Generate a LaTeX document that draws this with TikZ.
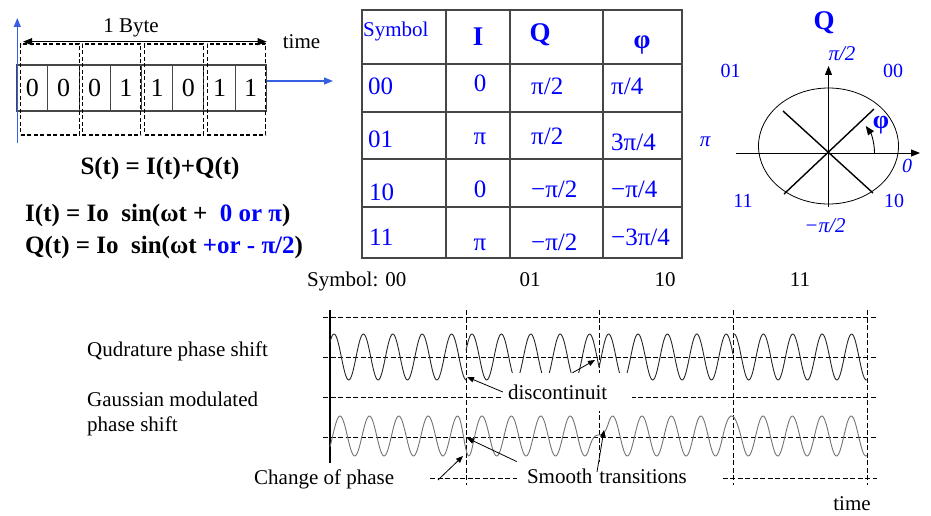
\documentclass[tikz,border=0pt]{standalone}
\usepackage{fontspec}
\setmainfont{Liberation Serif}
\usetikzlibrary{arrows.meta,positioning,calc,shapes.geometric}
\definecolor{symblue}{RGB}{0,0,255}
\definecolor{axblue}{RGB}{55,95,225}
\definecolor{linegray}{RGB}{70,70,70}
\definecolor{wavegray}{RGB}{115,115,115}

\begin{document}
\begin{tikzpicture}[x=1pt,y=-1pt,>={Triangle[length=9pt,width=7pt]},
  lbl/.style={inner sep=0pt,font=\fontsize{21}{25}\selectfont},
  eq/.style={inner sep=0pt,font=\bfseries\fontsize{25}{29}\selectfont},
  tab/.style={inner sep=0pt,text=symblue,font=\fontsize{25}{29}\selectfont},
  cst/.style={inner sep=0pt,text=symblue,font=\fontsize{20}{24}\selectfont},
  bit/.style={draw=linegray,line width=1.1pt,minimum width=31.2pt,minimum height=46pt,inner sep=0pt,font=\fontsize{26}{30}\selectfont},
  pairbox/.style={draw,dash pattern=on 4pt off 2.5pt,line width=1.1pt,minimum width=58.5pt,minimum height=91pt,inner sep=0pt},
  tabline/.style={linegray,line width=1.4pt},
  grid/.style={dash pattern=on 5pt off 2.5pt,line width=0.8pt},
  wave/.style={line width=0.9pt,black!85},
  gwave/.style={line width=0.9pt,wavegray},
  note/.style={fill=white,inner sep=0pt,font=\fontsize{21}{25}\selectfont},
  ptr/.style={-{Triangle[length=7pt,width=5.5pt]},line width=0.8pt},
  declare function={ramp(\u)=min(1,max(0,(\u+10)/20)); sm(\u)=3*ramp(\u)^2-2*ramp(\u)^3;}]
\useasboundingbox (0,0) rectangle (931,516);

\node[bit] (b1) at (32.3,88) {0};
\node[bit] (b2) at (63.5,88) {0};
\node[bit] (b3) at (94.7,88) {0};
\node[bit] (b4) at (125.9,88) {1};
\node[bit] (b5) at (157.1,88) {1};
\node[bit] (b6) at (188.3,88) {0};
\node[bit] (b7) at (219.5,88) {1};
\node[bit] (b8) at (250.7,88) {1};
\node[pairbox] (g1) at (50,89.5) {};
\node[pairbox] (g2) at (111.5,89.5) {};
\node[pairbox] (g3) at (174,89.5) {};
\node[pairbox] (g4) at (236.5,89.5) {};
\coordinate (tbot) at (17.3,143);
\coordinate (ttop) at (17.3,18);
\draw[->,axblue,line width=1.3pt] (tbot) -- (ttop);
\coordinate (byl) at (23,41.7);
\coordinate (byr) at (266.7,41.7);
\draw[<->,line width=1.1pt] (byl) -- (byr);
\node[lbl,anchor=base] (byte) at (131,32.7) {1 Byte};
\node[lbl,anchor=base] (time1) at (301.5,49) {time};
\coordinate (tabin) at (333,81);
\draw[->,axblue,line width=1.3pt] (b8.east |- tabin) -- (tabin);

\node[eq,anchor=base] (sum) at (160,174) {S(t) = I(t)+Q(t)};
\node[eq,anchor=base west] (ieq) at (25,221.5) {I(t) = Io\ \ sin(ωt +\ \ \textcolor{symblue}{0 or π})};
\node[eq,anchor=base west] (qeq) at (25,253) {Q(t) = Io\ \ sin(ωt \textcolor{symblue}{+or - π/2})};

\draw[tabline] (362,10) rectangle (682,258);
\draw[tabline] (446,10) -- (446,258);
\draw[tabline] (510,10) -- (510,258);
\draw[tabline] (603,10) -- (603,258);
\draw[tabline] (362,64) -- (682,64);
\draw[tabline] (362,112) -- (682,112);
\draw[tabline] (362,159) -- (682,159);
\draw[tabline] (362,207) -- (682,207);
\node[tab,font=\fontsize{21}{25}\selectfont,anchor=base west] (hsym) at (363,36.5) {Symbol};
\node[tab,font=\bfseries\fontsize{27}{31}\selectfont,anchor=base] (hi) at (478,46) {I};
\node[tab,font=\bfseries\fontsize{27}{31}\selectfont,anchor=base] (hq) at (540,42) {Q};
\node[tab,font=\bfseries\fontsize{27}{31}\selectfont] (hphi) at (642,45) {φ};
\node[tab,anchor=base west] (s00) at (368,95) {00};
\node[tab,anchor=base] (i00) at (480,92) {0};
\node[tab,anchor=base west] (q00) at (531,95) {π/2};
\node[tab,anchor=base west] (p00) at (611,95) {π/4};
\node[tab,anchor=base west] (s01) at (368,147) {01};
\node[tab,anchor=base] (i01) at (480,145) {π};
\node[tab,anchor=base west] (q01) at (531,145) {π/2};
\node[tab,anchor=base west] (p01) at (611,150) {3π/4};
\node[tab,anchor=base west] (s10) at (369,200) {10};
\node[tab,anchor=base] (i10) at (480,197) {0};
\node[tab,anchor=base west] (q10) at (531,197) {−π/2};
\node[tab,anchor=base west] (p10) at (611,197) {−π/4};
\node[tab,anchor=base west] (s11) at (369,245) {11};
\node[tab,anchor=base] (i11) at (480,250) {π};
\node[tab,anchor=base west] (q11) at (531,250) {−π/2};
\node[tab,anchor=base west] (p11) at (611,245) {−3π/4};

\node[draw,ellipse,line width=0.8pt,minimum width=140pt,minimum height=116pt,inner sep=0pt] (circ) at (828.5,146) {};
\coordinate (o) at (828.5,153);
\coordinate (axl) at (736,153);
\coordinate (axr) at (920,153);
\coordinate (axb) at (828.5,207);
\coordinate (axt) at (828.5,66);
\draw[->,line width=0.9pt] (axl) -- (axr);
\draw[->,line width=0.9pt] (axb) -- (axt);
\coordinate (d1) at (784,194);
\coordinate (d2) at (874,109);
\coordinate (d3) at (783,111);
\coordinate (d4) at (873,193);
\draw[line width=1.4pt] (d1) -- (d2);
\draw[line width=1.4pt] (d3) -- (d4);
\draw[->,line width=0.9pt] ($(o)+(46,0)$) arc[start angle=0,end angle=-36,radius=46];
\node[cst,font=\bfseries\fontsize{27}{31}\selectfont] (cq) at (824,22.5) {Q};
\node[cst,font=\itshape\fontsize{21}{25}\selectfont] (chalf) at (842,53.5) {π/2};
\node[cst] (c01) at (730.5,71) {01};
\node[cst] (c00) at (893,71) {00};
\node[cst,font=\itshape\fontsize{21}{25}\selectfont] (cpi) at (705,142) {π};
\node[cst,font=\bfseries\fontsize{26}{30}\selectfont] (cphi) at (881,125) {φ};
\node[cst,font=\itshape\fontsize{20}{24}\selectfont] (czero) at (907,165.5) {0};
\node[cst] (c11) at (743,201) {11};
\node[cst] (c10) at (894,201) {10};
\node[cst,font=\itshape\fontsize{21}{25}\selectfont] (cmhalf) at (825,225.5) {−π/2};

\node[lbl,anchor=base west] (symlbl) at (307,286) {Symbol: 00};
\node[lbl,anchor=base] (sym01) at (530,286) {01};
\node[lbl,anchor=base] (sym10) at (665,286) {10};
\node[lbl,anchor=base] (sym11) at (800,286) {11};
\node[lbl,anchor=base west] (qps) at (87,356) {Qudrature phase shift};
\node[lbl,anchor=base west,align=left] (gms) at (87,431) {Gaussian modulated\\phase shift};

\draw[grid] (323,317) -- (877,317);
\draw[grid] (323,357) -- (877,357);
\draw[grid] (323,397) -- (877,397);
\draw[grid] (323,437) -- (877,437);
\draw[grid] (430,478) -- (877,478);
\draw[line width=1.6pt] (330,310) -- (330,463);
\draw[grid] (466,310) -- (466,485);
\draw[grid] (599,310) -- (599,485);
\draw[grid] (733,310) -- (733,485);
\draw[grid] (867,310) -- (867,485);
\draw[wave] plot[domain=330:466,samples=140] (\x,{357-23*cos(12.2449*(\x-334))});
\draw[wave] plot[domain=466:599,samples=140] (\x,{357-23*cos(12.2449*(\x-472))});
\draw[wave] plot[domain=599:733,samples=140] (\x,{357-23*cos(12.2449*(\x-608.6))});
\draw[wave] plot[domain=733:867,samples=140] (\x,{357-23*cos(12.2449*(\x-734))});
\draw[gwave] plot[domain=330:867,samples=540] (\x,{436-20*cos(12.2449*(\x-340)+61.2*sm(\x-466)-159.2*sm(\x-599)-41.6*sm(\x-733))});

\node[note,minimum width=129pt,minimum height=38pt,text width=119pt,align=left] (disc) at (567.5,392) {discontinuit};
\node[note,minimum width=203pt,minimum height=30pt,text width=183pt,align=left] (smooth) at (618.5,476.8) {Smooth transitions};
\node[lbl,anchor=base west] (chg) at (254,484) {Change of phase};
\node[lbl,anchor=base] (time2) at (852,510) {time};
\coordinate (dtip1) at (467,377);
\coordinate (dtip2) at (595,360);
\coordinate (stip1) at (467,438);
\coordinate (stail2) at (597,472);
\coordinate (stip2) at (604,430);
\coordinate (ctail) at (438,480);
\coordinate (ctip) at (463,456);
\draw[ptr] (disc.west) -- (dtip1);
\draw[ptr] ([xshift=5pt]disc.north) -- (dtip2);
\draw[ptr] (smooth.north west) -- (stip1);
\draw[ptr] (stail2) -- (stip2);
\draw[ptr] (ctail) -- (ctip);
\end{tikzpicture}
\end{document}
